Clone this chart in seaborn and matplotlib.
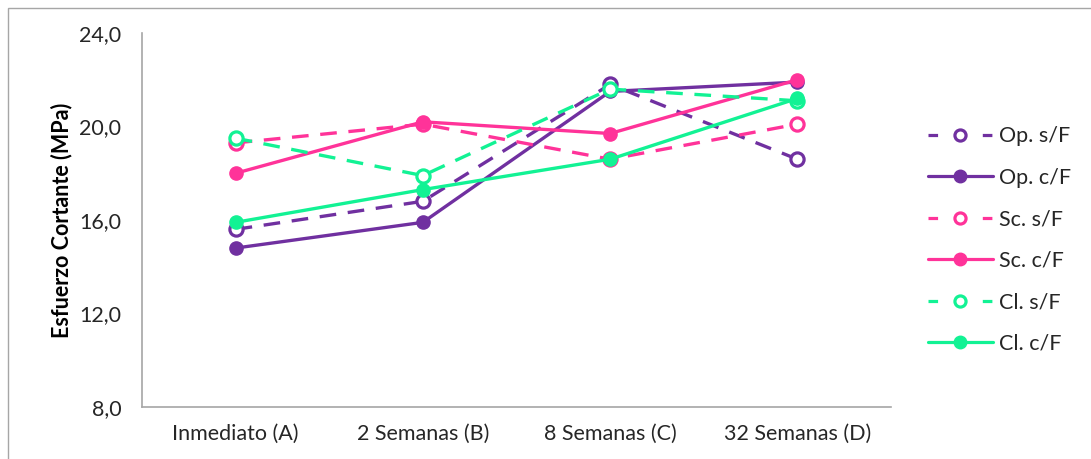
import matplotlib
matplotlib.use("Agg")
import matplotlib.pyplot as plt
import matplotlib.patches as mpatches
from matplotlib.lines import Line2D
import seaborn as sns
import pandas as pd

# Data: shear strength (MPa) per ageing period
categories = ["Inmediato (A)", "2 Semanas (B)", "8 Semanas (C)", "32 Semanas (D)"]
op_sf = [15.6, 16.8, 21.8, 18.6]
op_cf = [14.8, 15.9, 21.5, 21.9]
sc_sf = [19.3, 20.1, 18.6, 20.1]
sc_cf = [18.0, 20.2, 19.7, 22.0]
cl_sf = [19.5, 17.9, 21.6, 21.1]
cl_cf = [15.9, 17.3, 18.6, 21.2]
series_names = ["Op. s/F", "Op. c/F", "Sc. s/F", "Sc. c/F", "Cl. s/F", "Cl. c/F"]
series_values = [op_sf, op_cf, sc_sf, sc_cf, cl_sf, cl_cf]
y_ticks = [8.0, 12.0, 16.0, 20.0, 24.0]

purple = "#7030A0"
pink = "#FF3399"
green = "#12F294"
styles = {
    "Op. s/F": (purple, True),
    "Op. c/F": (purple, False),
    "Sc. s/F": (pink, True),
    "Sc. c/F": (pink, False),
    "Cl. s/F": (green, True),
    "Cl. c/F": (green, False),
}

sns.set_style("white")
plt.rcParams["font.family"] = ["Lato", "DejaVu Sans"]
FS = 15.5

fig = plt.figure(figsize=(10.91, 4.59), dpi=100)
ax = fig.add_axes([142 / 1091, 1 - 407 / 459, (891 - 142) / 1091, (407 - 33) / 459])

# Outer chart border (only top and left edges fall inside the image)
fig.add_artist(mpatches.Rectangle((8 / 1091, -0.1), 1.2, 1 - 8 / 459 + 0.1,
                                  transform=fig.transFigure, fill=False,
                                  edgecolor="#A6A6A6", linewidth=1.0))

positions = list(range(len(categories)))
handles = []
for name, vals in zip(series_names, series_values):
    color, open_marker = styles[name]
    df = pd.DataFrame({"x": positions, "y": vals})
    ls = (0, (5, 3.5)) if open_marker else "-"
    sns.lineplot(data=df, x="x", y="y", ax=ax, color=color, linewidth=2.4,
                 linestyle=ls, marker="o", markersize=9.5,
                 markerfacecolor="white" if open_marker else color,
                 markeredgecolor=color, markeredgewidth=2.3 if open_marker else 1,
                 legend=False)
    handles.append(Line2D([0], [0], color=color, linewidth=2.3,
                          linestyle=(0, (3, 5.5)) if open_marker else "-",
                          marker="o", markersize=9 if not open_marker else 8,
                          markerfacecolor="white" if open_marker else color,
                          markeredgecolor=color,
                          markeredgewidth=2.3 if open_marker else 1))

ax.set_xlim(-0.5, len(categories) - 0.5)
ax.set_ylim(8, 24)
ax.set_yticks(y_ticks)
ax.set_yticklabels([f"{v:.1f}".replace(".", ",") for v in y_ticks])
ax.set_xticks([i - 0.5 for i in range(len(categories) + 1)])
ax.set_xticklabels([])
ax.set_xticks(positions, minor=True)
ax.set_xticklabels(categories, minor=True)
ax.tick_params(axis="x", which="minor", length=0, pad=12, labelsize=FS, labelcolor="#262626")
ax.tick_params(axis="x", which="major", length=6, width=1, color="#A6A6A6", direction="out")
ax.tick_params(axis="y", length=6, width=1, color="#A6A6A6", direction="out",
               pad=9, labelsize=FS, labelcolor="#262626")

for side in ["top", "right"]:
    ax.spines[side].set_visible(False)
for side in ["left", "bottom"]:
    ax.spines[side].set_color("#A6A6A6")
    ax.spines[side].set_linewidth(1.2)

ax.set_xlabel("")
ax.set_ylabel("Esfuerzo Cortante (MPa)", fontsize=FS, fontweight="bold",
              color="black", labelpad=5)

fig.legend(handles, series_names, loc="center left",
           bbox_to_anchor=(928 / 1091, 1 - 240 / 459), frameon=False,
           fontsize=FS, handlelength=3.0, handletextpad=0.3,
           labelspacing=1.0, borderpad=0, borderaxespad=0,
           labelcolor="#262626")

fig.savefig("out.png", dpi=100)
